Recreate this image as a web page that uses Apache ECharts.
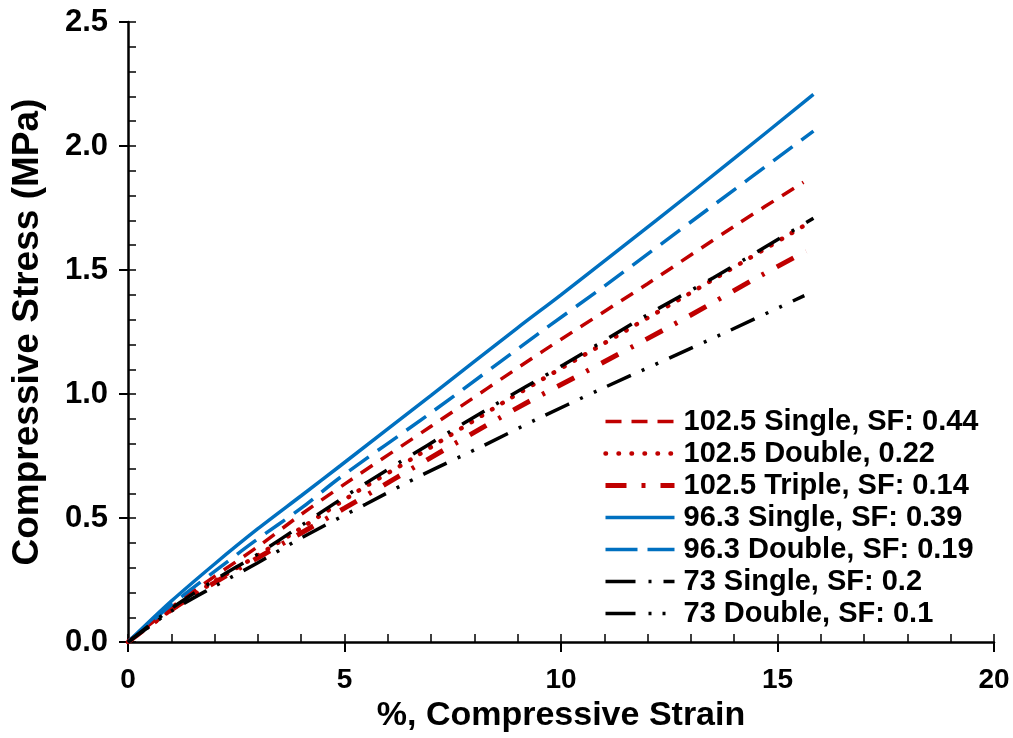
<!DOCTYPE html>
<html>
<head>
<meta charset="utf-8">
<script src="https://cdn.jsdelivr.net/npm/echarts@6/dist/echarts.min.js"></script>
<style>
  html, body { margin: 0; padding: 0; background: #fff; }
  #chart { width: 1013px; height: 738px; }
</style>
</head>
<body>
<div id="chart"></div>
<script>
// ---- data (strain %, stress MPa) ----
const s102Single = [[0,0],[1,0.14],[2,0.265],[3,0.385],[4,0.515],[5.07,0.645],[7,0.87],[9.6,1.175],[12,1.445],[14.03,1.68],[15.6,1.854]];
const s102Double = [[0,0],[1,0.13],[2,0.245],[3,0.35],[4,0.46],[5.34,0.612],[6.53,0.736],[8.79,0.979],[11,1.205],[13.5,1.46],[15.72,1.69]];
const s102Triple = [[0,0],[1,0.13],[2,0.24],[3,0.34],[4,0.44],[5,0.54],[6.22,0.665],[7.3,0.775],[8.3,0.876],[9.26,0.97],[10.33,1.068],[12.45,1.266],[13.45,1.363],[14.45,1.462],[15.66,1.576]];
const s963Single = [[0,0],[1,0.165],[2,0.315],[3,0.457],[4,0.59],[4.91,0.712],[7,0.995],[8.99,1.266],[10,1.40],[12.2,1.70],[14,1.95],[15.83,2.208]];
const s963Double = [[0,0],[1,0.15],[2,0.285],[2.91,0.405],[4,0.54],[4.91,0.665],[7,0.925],[9.53,1.25],[11,1.435],[13.2,1.72],[15.83,2.06]];
const s73Single = [[0,0],[1,0.135],[2,0.25],[3,0.355],[4,0.47],[5.53,0.645],[8.3,0.939],[10.07,1.119],[12,1.32],[13.53,1.47],[15.83,1.709]];
const s73Double = [[0,0],[1,0.125],[2,0.225],[3,0.32],[4,0.42],[5.49,0.556],[6.84,0.678],[8.22,0.793],[9.41,0.896],[10.91,1.019],[13.72,1.242],[15.62,1.397]];

const seriesNames = [
  '102.5 Single, SF: 0.44',
  '102.5 Double, 0.22',
  '102.5 Triple, SF: 0.14',
  '96.3 Single, SF: 0.39',
  '96.3 Double, SF: 0.19',
  '73 Single, SF: 0.2',
  '73 Double, SF: 0.1'
];
const seriesData = [s102Single, s102Double, s102Triple, s963Single, s963Double, s73Single, s73Double];

const xTitle = '%, Compressive Strain';
const yTitle = 'Compressive Stress (MPa)';

// ---- styles ----
const RED = '#C00000', BLUE = '#0070C0', BLACK = '#000000';
const styles = [
  { color: RED,   width: 3.5, type: [14, 10], cap: 'butt',  legendType: [16, 10] },
  { color: RED,   width: 4.5, type: [0.5, 11.5], cap: 'round', legendType: [0.5, 12.5] },
  { color: RED,   width: 5,   type: [19, 14, 3, 14], cap: 'butt', legendType: [21, 15, 4, 15] },
  { color: BLUE,  width: 3.5, type: 'solid', cap: 'butt', legendType: 'solid' },
  { color: BLUE,  width: 3.5, type: [24, 11], cap: 'butt', legendType: [32, 10] },
  { color: BLACK, width: 3.5, type: [26, 14, 3, 14], cap: 'butt', legendType: [30, 13, 3, 12] },
  { color: BLACK, width: 3.5, type: [26, 12, 3, 12, 3, 12], cap: 'butt', legendType: [30, 13, 3, 11, 3, 20] }
];

const FONT = '"Liberation Sans", Arial, sans-serif';

const chart = echarts.init(document.getElementById('chart'), null, { renderer: 'canvas' });

const series = seriesNames.map((name, i) => ({
  name: name,
  type: 'line',
  xAxisIndex: 0,
  yAxisIndex: 0,
  data: seriesData[i],
  symbol: 'none',
  smooth: 0.3,
  animation: false,
  lineStyle: { color: styles[i].color, width: styles[i].width, type: styles[i].type, cap: styles[i].cap },
  itemStyle: { color: styles[i].color }
}));

const legendData = seriesNames.map((name, i) => ({
  name: name,
  itemStyle: { color: 'rgba(0,0,0,0)', borderWidth: 0, opacity: 0 },
  lineStyle: { color: styles[i].color, width: styles[i].width, type: styles[i].legendType, cap: styles[i].cap }
}));

const option = {
  animation: false,
  backgroundColor: '#ffffff',
  grid: { left: 128, right: 19, top: 22, bottom: 92, containLabel: false },
  xAxis: [
    {
      type: 'value', min: 0, max: 20, interval: 5, position: 'bottom',
      name: xTitle, nameLocation: 'middle', nameGap: 54,
      nameTextStyle: { fontFamily: FONT, fontWeight: 'bold', fontSize: 34, color: '#000' },
      axisLine: { show: true, onZero: false, lineStyle: { color: '#000', width: 2.5 } },
      axisTick: { show: true, inside: false, length: 10, lineStyle: { color: '#000', width: 2 } },
      axisLabel: { fontFamily: FONT, fontWeight: 'bold', fontSize: 28, color: '#000', margin: 24 },
      splitLine: { show: false }
    },
    {
      type: 'value', min: 0, max: 20, interval: 1, position: 'bottom',
      axisLine: { show: false },
      axisTick: { show: true, inside: true, length: 8, lineStyle: { color: '#000', width: 1.5 } },
      axisLabel: { show: false },
      splitLine: { show: false }
    }
  ],
  yAxis: [
    {
      type: 'value', min: 0, max: 2.5, interval: 0.5, position: 'left',
      name: yTitle, nameLocation: 'middle', nameGap: 82, nameRotate: 90,
      nameTextStyle: { fontFamily: FONT, fontWeight: 'bold', fontSize: 37, color: '#000' },
      axisLine: { show: true, onZero: false, lineStyle: { color: '#000', width: 2.5 } },
      axisTick: { show: true, inside: false, length: 9, lineStyle: { color: '#000', width: 2 } },
      axisLabel: { fontFamily: FONT, fontWeight: 'bold', fontSize: 31, color: '#000', margin: 20,
                   formatter: v => v.toFixed(1) },
      splitLine: { show: false }
    },
    {
      type: 'value', min: 0, max: 2.5, interval: 0.1, position: 'left',
      axisLine: { show: false },
      axisTick: { show: true, inside: true, length: 8, lineStyle: { color: '#000', width: 1.5 } },
      axisLabel: { show: false },
      splitLine: { show: false }
    }
  ],
  legend: {
    orient: 'vertical',
    left: 603, top: 407,
    itemWidth: 69, itemHeight: 12, itemGap: 3,
    padding: 0,
    data: legendData,
    itemStyle: { color: 'rgba(0,0,0,0)', borderWidth: 0, opacity: 0 },
    textStyle: { fontFamily: FONT, fontWeight: 'bold', fontSize: 29, color: '#000', padding: [0, 0, 0, 4] }
  },
  series: series
};

chart.setOption(option);
</script>
</body>
</html>
